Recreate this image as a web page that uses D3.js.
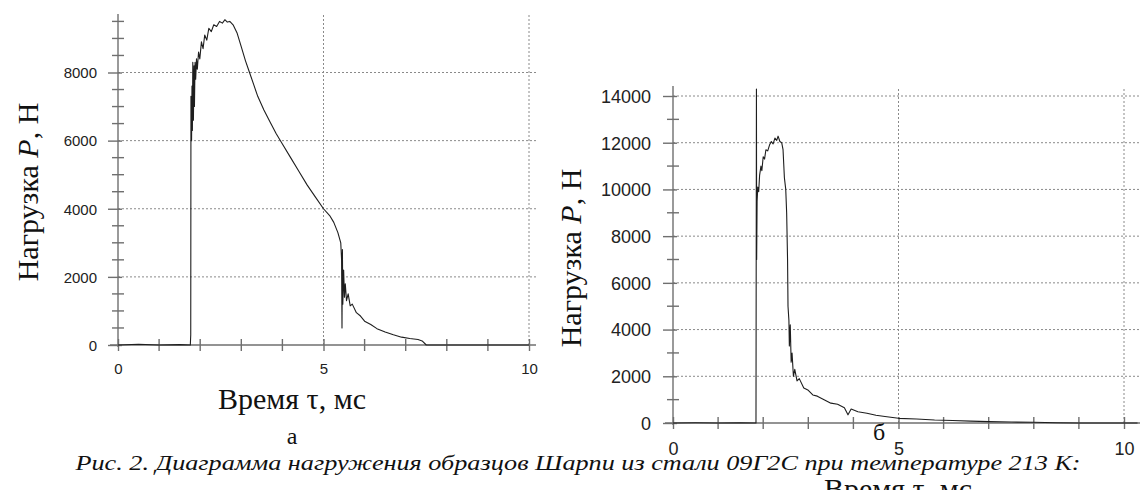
<!DOCTYPE html>
<html>
<head>
<meta charset="utf-8">
<script src="https://cdn.jsdelivr.net/npm/d3@7"></script>
<style>
  body { margin: 0; background: #fff; }
  svg { display: block; }
  .grid { stroke: #8a8a8a; stroke-width: 1; stroke-dasharray: 2,2; }
  .ax { stroke: #6f6f6f; stroke-width: 1.4; }
</style>
</head>
<body>
<svg id="chart" width="1140" height="490"></svg>
<script>
// panel a: load curve, time in ms, load in N
const leftT = [0, 0.5, 1.0, 1.5, 1.76, 1.77, 1.775, 1.79, 1.80, 1.81, 1.82, 1.835, 1.85, 1.86, 1.875, 1.89, 1.91, 1.93, 1.96, 1.99,
    2.03, 2.07, 2.11, 2.16, 2.21, 2.27, 2.33, 2.40, 2.47, 2.54, 2.60, 2.66, 2.72, 2.80, 2.90, 3.00, 3.10, 3.20, 3.30, 3.40,
    3.55, 3.70, 3.85, 4.00, 4.20, 4.40, 4.60, 4.80, 5.00, 5.15, 5.25, 5.35, 5.42, 5.44, 5.45, 5.46, 5.47, 5.49, 5.51, 5.53,
    5.56, 5.60, 5.65, 5.70, 5.80, 5.90, 6.00, 6.15, 6.30, 6.50, 6.70, 6.90, 7.10, 7.30, 7.40, 7.50, 8.0, 10.0];
const leftP = [0, 20, 0, 10, 0, 300, 7300, 6000, 7600, 6300, 8300, 6600, 8200, 7000, 8300, 7800, 8400, 8100, 8600, 8400,
    8900, 8700, 9100, 8950, 9300, 9200, 9400, 9350, 9500, 9450, 9550, 9480, 9500, 9400, 9150, 8750, 8350, 8000, 7650, 7300,
    6900, 6550, 6200, 5900, 5500, 5100, 4700, 4350, 4000, 3800, 3600, 3300, 3000, 2500, 500, 2800, 1200, 2200, 1400, 1800,
    1300, 1500, 1150, 1200, 950, 850, 700, 600, 480, 380, 300, 230, 190, 160, 120, 0, 0, 0];

// panel б
const rightT = [0, 0.5, 1.0, 1.5, 1.84, 1.85, 1.855, 1.865, 1.88, 1.90, 1.92, 1.95, 1.97, 2.00, 2.03, 2.06, 2.10, 2.14, 2.18, 2.22,
    2.26, 2.30, 2.33, 2.37, 2.41, 2.44, 2.47, 2.50, 2.52, 2.54, 2.55, 2.57, 2.58, 2.60, 2.62, 2.64, 2.67, 2.70, 2.75, 2.80,
    2.90, 3.00, 3.10, 3.20, 3.35, 3.50, 3.65, 3.80, 3.88, 3.95, 4.10, 4.30, 4.50, 4.70, 5.00, 5.40, 5.80, 6.20, 6.60, 7.00,
    7.50, 8.00, 8.50, 9.00, 10.0, 10.3];
const rightP = [0, 10, 0, 10, 0, 14300, 7000, 9500, 10100, 9900, 10600, 11000, 10800, 11400, 11300, 11700, 11650, 11900, 12050, 11950,
    12200, 12100, 12280, 12050, 12000, 11700, 10500, 10000, 9000, 7000, 5000, 4400, 3300, 4200, 2600, 3000, 2000, 2300, 1800, 1900,
    1500, 1400, 1200, 1150, 1000, 850, 800, 650, 350, 600, 480, 420, 330, 280, 200, 170, 130, 110, 80, 60,
    40, 30, 10, 0, 0, 0];

const leftMajor = [0, 2000, 4000, 6000, 8000];
const rightMajor = [0, 2000, 4000, 6000, 8000, 10000, 12000, 14000];
const xMajor = [0, 5, 10];

const caption = "Рис. 2. Диаграмма нагружения образцов Шарпи из стали 09Г2С при температуре 213 К:";

const SANS = "'Liberation Sans', Arimo, Arial, Helvetica, sans-serif";
const SERIF = "'Liberation Serif', Tinos, 'Times New Roman', Times, serif";

const svg = d3.select("#chart");

const drawPanel = (cfg) => {
    const x = d3.scaleLinear().domain([0, 10]).range([cfg.x0, cfg.x10]);
    const y = d3.scaleLinear().domain([0, cfg.yTopVal]).range([cfg.y0, cfg.yTop]);
    const g = svg.append("g");

    // grid
    g.selectAll(".hgrid")
        .data(cfg.major.filter(d => d > 0))
        .join("line")
        .attr("class", "grid")
        .attr("x1", cfg.x0).attr("x2", cfg.gridRight)
        .attr("y1", d => y(d)).attr("y2", d => y(d));
    g.selectAll(".vgrid")
        .data([5, 10])
        .join("line")
        .attr("class", "grid")
        .attr("x1", d => x(d)).attr("x2", d => x(d))
        .attr("y1", cfg.y0).attr("y2", cfg.gridTop);

    // minor ticks, cross style
    const minorY = d3.range(0, cfg.yMinorMax + 1, cfg.minorStep).filter(d => !cfg.major.includes(d));
    g.selectAll(".ymin")
        .data(minorY)
        .join("line")
        .attr("class", "ax")
        .attr("x1", cfg.x0 - 6).attr("x2", cfg.x0 + 6)
        .attr("y1", d => y(d)).attr("y2", d => y(d));
    g.selectAll(".xmin")
        .data(d3.range(1, 11).filter(d => d !== 5 && d !== 10))
        .join("line")
        .attr("class", "ax")
        .attr("x1", d => x(d)).attr("x2", d => x(d))
        .attr("y1", cfg.y0 - 6).attr("y2", cfg.y0 + 6);

    // axes
    const yAxis = d3.axisLeft(y).tickValues(cfg.major).tickSize(10).tickSizeOuter(0).tickPadding(cfg.yPad).tickFormat(d3.format("d"));
    const xAxis = d3.axisBottom(x).tickValues(xMajor).tickSize(8).tickSizeOuter(0).tickPadding(cfg.xPad).tickFormat(d3.format("d"));

    const ya = g.append("g").attr("transform", `translate(${cfg.x0},0)`).call(yAxis);
    ya.attr("font-family", null);
    ya.select(".domain").remove();
    ya.selectAll("line").attr("class", "ax").attr("x2", -10).attr("x1", 4);
    ya.selectAll("text")
        .attr("font-family", SANS).attr("fill", "#222")
        .attr("font-size", cfg.numSize).attr("dy", "0.35em");

    const xa = g.append("g").attr("transform", `translate(0,${cfg.y0})`).call(xAxis);
    xa.attr("font-family", null);
    xa.select(".domain").remove();
    xa.selectAll("line").attr("class", "ax").attr("y1", -6).attr("y2", 6);
    xa.selectAll("text")
        .attr("font-family", SANS).attr("fill", "#222")
        .attr("font-size", cfg.numSize);

    g.append("line").attr("class", "ax")
        .attr("x1", cfg.x0).attr("x2", cfg.x0)
        .attr("y1", cfg.y0 + 2).attr("y2", cfg.axisTop);
    g.append("line").attr("class", "ax")
        .attr("x1", cfg.x0 - 8).attr("x2", cfg.axisRight)
        .attr("y1", cfg.y0).attr("y2", cfg.y0);

    // curve
    const line = d3.line().x(d => x(d[0])).y(d => y(d[1]));
    g.append("path")
        .datum(d3.zip(cfg.t, cfg.p))
        .attr("d", line)
        .attr("fill", "none")
        .attr("stroke", "#1e1e1e")
        .attr("stroke-width", 1.1)
        .attr("stroke-linejoin", "round");

    // labels
    g.append("text")
        .attr("font-family", SERIF).attr("fill", "#111")
        .attr("transform", `translate(${cfg.yLabX},${cfg.yLabY}) rotate(-90)`)
        .attr("text-anchor", "middle")
        .attr("font-size", cfg.labSize)
        .html('Нагрузка <tspan font-style="italic">P</tspan>, Н');
    g.append("text")
        .attr("font-family", SERIF).attr("fill", "#111")
        .attr("x", cfg.xLabX).attr("y", cfg.xLabY)
        .attr("text-anchor", "middle")
        .attr("font-size", cfg.labSize)
        .text("Время τ, мс");
    g.append("text")
        .attr("font-family", SERIF).attr("fill", "#111")
        .attr("x", cfg.letterX).attr("y", cfg.letterY)
        .attr("text-anchor", "middle")
        .attr("font-size", 24)
        .text(cfg.letter);
};

drawPanel({
    x0: 118, x10: 529, y0: 345, yTop: 72.5, yTopVal: 8000,
    gridRight: 536, gridTop: 14, axisTop: 14, axisRight: 536,
    major: leftMajor, minorStep: 500, yMinorMax: 9500,
    t: leftT, p: leftP, numSize: 15, xPad: 10, yPad: 11,
    labSize: 30, yLabX: 38, yLabY: 192, xLabX: 292, xLabY: 409,
    letter: "а", letterX: 292, letterY: 444
});

drawPanel({
    x0: 673, x10: 1124, y0: 423, yTop: 96, yTopVal: 14000,
    gridRight: 1140, gridTop: 88, axisTop: 86, axisRight: 1140,
    major: rightMajor, minorStep: 1000, yMinorMax: 13000,
    t: rightT, p: rightP, numSize: 18, xPad: 11, yPad: 12,
    labSize: 30, yLabX: 581, yLabY: 258, xLabX: 898, xLabY: 499,
    letter: "б", letterX: 879, letterY: 440
});

svg.append("text")
    .attr("font-family", SERIF).attr("fill", "#111")
    .attr("x", 578).attr("y", 470)
    .attr("text-anchor", "middle")
    .attr("font-size", 21)
    .attr("font-style", "italic")
    .attr("textLength", 1005)
    .attr("lengthAdjust", "spacingAndGlyphs")
    .text(caption);
</script>
</body>
</html>
